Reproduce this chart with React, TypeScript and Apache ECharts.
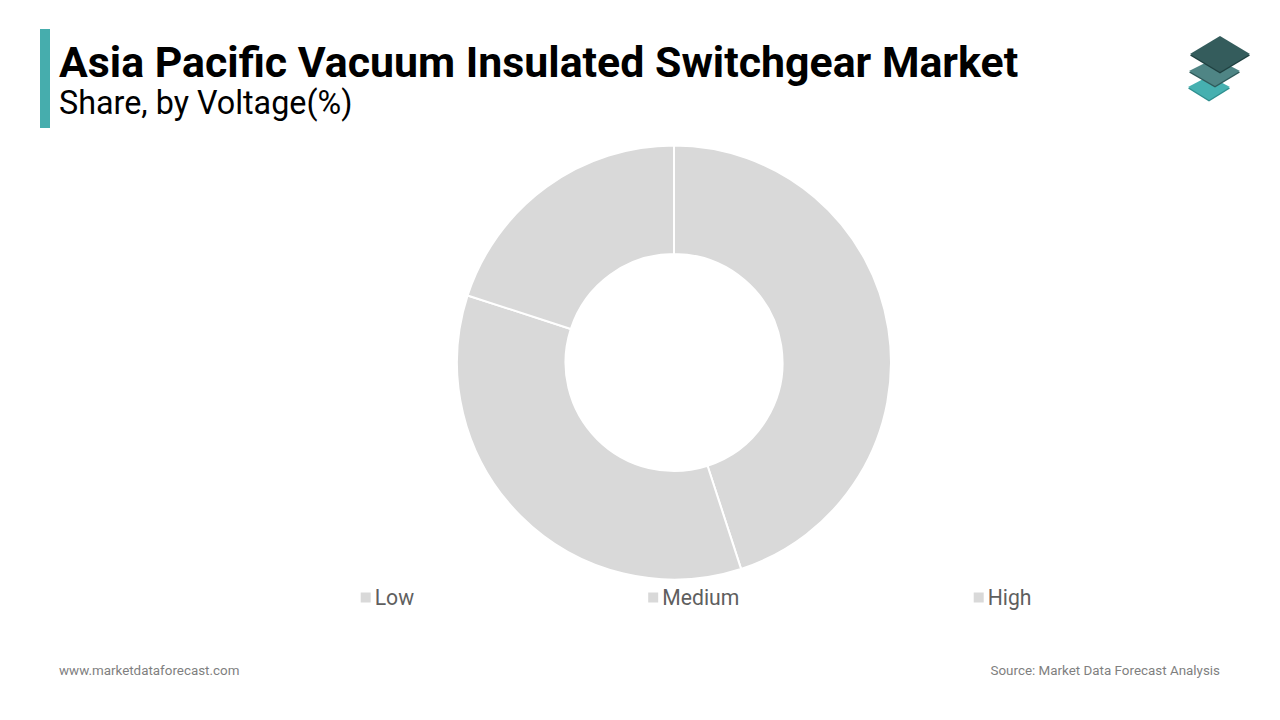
import React, { useEffect, useRef } from "react";
import * as echarts from "echarts";

const titleText = "Asia Pacific Vacuum Insulated Switchgear Market";
const subtitleText = "Share, by Voltage(%)";
const siteText = "www.marketdataforecast.com";
const sourceText = "Source: Market Data Forecast Analysis";
const categories = ["Low", "Medium", "High"];
const shares = [45, 35, 20];
const legendLefts = [355.7, 643.2, 968.7];

const FONT = "Roboto";

export default function App() {
  const ref = useRef<HTMLDivElement>(null);
  useEffect(() => {
    document.body.style.margin = "0";
    const chart = echarts.init(ref.current!, undefined, { renderer: "svg", width: 1280, height: 720 });
    const diamond = (points: number[][], fill: string, edge: string) => [
      { type: "polygon", shape: { points: points.map(([x, y]) => [x, y + 1.5]) }, style: { fill: edge } },
      { type: "polygon", shape: { points }, style: { fill } },
    ];
    chart.setOption({
      animation: false,
      backgroundColor: "#ffffff",
      color: ["#d9d9d9"],
      title: [
        { text: titleText, left: 54, top: 35, textStyle: { fontFamily: FONT, fontSize: 42.85, fontWeight: 700, color: "#000000" } },
        { text: subtitleText, left: 54, top: 82, textStyle: { fontFamily: FONT, fontSize: 32.3, fontWeight: 400, color: "#000000" } },
        { text: siteText, left: 54, top: 659, textStyle: { fontFamily: FONT, fontSize: 13.4, fontWeight: 400, color: "#7f7f7f" } },
        { text: sourceText, right: 55, top: 659, textStyle: { fontFamily: FONT, fontSize: 13.4, fontWeight: 400, color: "#7f7f7f" } },
      ],
      legend: categories.map((name, i) => ({
        data: [name],
        left: legendLefts[i],
        top: 582,
        icon: "rect",
        itemWidth: 8,
        itemHeight: 8,
        itemStyle: { borderColor: "#d9d9d9", borderWidth: 2, borderJoin: "miter" },
        selectedMode: false,
        textStyle: { fontFamily: FONT, fontSize: 21.2, color: "#5f5f5f" },
      })),
      series: [
        {
          type: "pie",
          center: [674, 362.5],
          radius: [108.5, 217],
          startAngle: 90,
          clockwise: true,
          label: { show: false },
          labelLine: { show: false },
          silent: true,
          itemStyle: { color: "#d9d9d9", borderColor: "#ffffff", borderWidth: 2 },
          data: categories.map((name, i) => ({ name, value: shares[i] })),
        },
      ],
      graphic: [
        { type: "rect", shape: { x: 40, y: 29, width: 10, height: 99 }, style: { fill: "#46adad" } },
        ...diamond([[1188, 87], [1209, 76], [1230, 87], [1209, 100]], "#46b0b0", "#2f8f8f"),
        ...diamond([[1189, 71], [1215, 58], [1240, 71], [1215, 86]], "#4f8585", "#2f5a5a"),
        ...diamond([[1190, 54], [1220, 36], [1250, 54], [1220, 72]], "#345c5c", "#1f4040"),
      ],
    });
    return () => chart.dispose();
  }, []);
  return <div ref={ref} style={{ width: 1280, height: 720 }} />;
}
